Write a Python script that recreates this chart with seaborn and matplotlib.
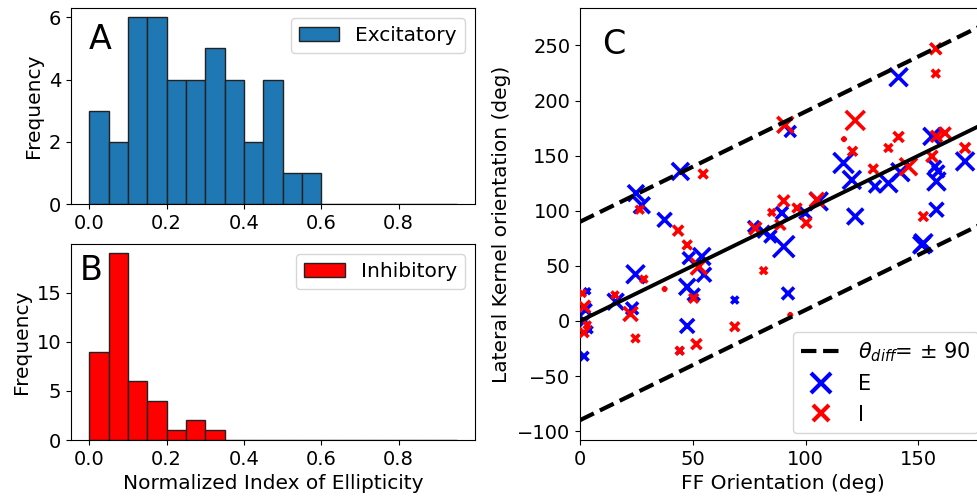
import numpy as np
import pandas as pd
import matplotlib
matplotlib.use("Agg")
import matplotlib.pyplot as plt
from matplotlib.lines import Line2D
import seaborn as sns

# ---------------- data ----------------
bin_edges = [round(0.05 * k, 2) for k in range(20)]          # 0.00 ... 0.95 (19 bins)
exc_counts = [3, 2, 6, 6, 4, 4, 5, 4, 2, 4, 1, 1, 0, 0, 0, 0, 0, 0, 0]
inh_counts = [9, 19, 6, 4, 1, 2, 1, 0, 0, 0, 0, 0, 0, 0, 0, 0, 0, 0, 0]

# Panel C: E cells (FF orientation, lateral kernel orientation, ellipticity weight)
e_ff = [44.5, 24.8, 27.4, 37.5, 54.0, 48.2, 24.6, 3.2, 2.5, 15.8, 23.1, 4.0, 1.8,
        47.5, 44.2, 47.5, 50.4, 55.0, 68.6, 92.2, 151.5, 90.3, 93.2, 89.5, 99.9,
        105.8, 77.0, 81.4, 84.4, 141.2, 116.8, 120.5, 136.7, 130.8, 156.0, 157.4,
        158.8, 158.0, 170.7, 122.0, 158.0, 152.2, 2.0, 142.0]
e_lk = [135.7, 116.0, 105.0, 91.8, 58.5, 57.0, 42.4, 27.0, 10.0, 17.5, 11.5, -8.0, -32.0,
        -4.5, -27.0, 31.0, 24.0, 42.0, 19.0, 25.0, 69.0, 67.5, 172.0, 98.0, 98.0,
        108.5, 85.7, 81.0, 76.6, 221.2, 143.4, 128.0, 125.0, 122.0, 167.5, 140.0,
        135.7, 126.6, 144.8, 94.8, 101.0, 70.6, 0.0, 135.0]
e_w = [0.64, 0.56, 0.56, 0.42, 0.64, 0.30, 0.72, 0.05, 0.30, 0.56, 0.30, 0.08, 0.15,
       0.42, 0.08, 0.56, 0.30, 0.42, 0.08, 0.30, 0.64, 1.00, 0.25, 0.30, 0.30,
       0.72, 0.25, 0.30, 0.30, 0.72, 0.90, 0.72, 0.72, 0.30, 0.64, 0.30,
       0.30, 0.72, 0.72, 0.56, 0.42, 0.72, 0.20, 0.72]

# Panel C: I cells
i_ff = [54.6, 26.5, 43.5, 47.5, 28.3, 37.5, 1.0, 1.8, 15.5, 22.4, 1.8, 3.2, 24.6,
        44.2, 51.6, 50.4, 52.7, 68.6, 81.4, 93.2, 91.0, 90.3, 85.0, 96.2, 100.3,
        105.0, 77.7, 88.8, 157.7, 157.7, 122.0, 117.0, 120.8, 130.0, 136.7, 141.2,
        145.6, 158.0, 161.8, 156.0, 170.7, 152.2]
i_lk = [133.4, 101.0, 82.0, 69.0, 38.0, 29.0, 25.0, 13.0, 23.6, 6.4, -10.6, -3.6, -15.8,
        -27.0, -21.0, 20.6, 49.4, -5.2, 45.7, 5.5, 178.0, 109.0, 98.5, 102.5, 89.0,
        110.0, 84.0, 87.3, 247.0, 224.5, 182.0, 165.0, 154.0, 138.0, 157.0, 167.0,
        140.0, 167.5, 170.6, 149.4, 157.0, 94.8]
i_w = [0.15, 0.11, 0.20, 0.15, 0.08, 0.00, 0.08, 0.30, 0.08, 0.42, 0.15, 0.08, 0.11,
       0.11, 0.20, 0.15, 0.56, 0.15, 0.08, 0.00, 0.56, 0.25, 0.08, 0.15, 0.20,
       0.42, 0.30, 0.20, 0.25, 0.11, 0.80, 0.00, 0.15, 0.15, 0.11, 0.20,
       0.64, 0.25, 0.25, 0.25, 0.20, 0.15]

theta_diff = 90
xlim_c = (0, 180)
ylim_c = (-108, 284)

# ---------------- figure ----------------
plt.rcParams['font.family'] = ['DejaVu Sans']
plt.rcParams['font.size'] = 14

TICK_FS = 14
LABEL_FS = 14.5
LEG_FS_AB = 14.5
LEG_FS_C = 15

W, H = 977, 496
fig = plt.figure(figsize=(W / 100, H / 100), dpi=100)

def ax_px(left, top, right, bottom):
    return fig.add_axes([left / W, 1 - bottom / H, (right - left) / W, (bottom - top) / H])

axA = ax_px(71, 8, 475, 204)
axB = ax_px(71, 244, 475, 440)
# axis C extends beyond the right edge of the figure (cropped, like the reference)
c_left = 580
c_px_per_unit = 2.256
axC = ax_px(c_left, 8, c_left + (xlim_c[1] - xlim_c[0]) * c_px_per_unit, 440)

hist_df = pd.DataFrame({
    'center': [e + 0.025 for e in bin_edges[:-1]],
    'exc': exc_counts,
    'inh': inh_counts,
})

sns.histplot(data=hist_df, x='center', weights='exc', bins=bin_edges, ax=axA,
             color='#1f77b4', edgecolor='#222222', linewidth=1.0, alpha=1.0,
             label='Excitatory')
sns.histplot(data=hist_df, x='center', weights='inh', bins=bin_edges, ax=axB,
             color='red', edgecolor='#222222', linewidth=1.0, alpha=1.0,
             label='Inhibitory')

for ax, ylim, yt in [(axA, (0, 6.3), [0, 2, 4, 6]), (axB, (0, 19.95), [0, 5, 10, 15])]:
    ax.set_xlim(-0.0475, 0.9975)
    ax.set_ylim(*ylim)
    ax.set_yticks(yt)
    ax.set_xticks([0.0, 0.2, 0.4, 0.6, 0.8])
    ax.set_xticklabels(['0.0', '0.2', '0.4', '0.6', '0.8'])
    ax.set_ylabel('Frequency', fontsize=LABEL_FS)
    ax.tick_params(labelsize=TICK_FS)
    ax.legend(loc='upper right', fontsize=LEG_FS_AB)
axA.set_xlabel('')
axB.set_xlabel('Normalized Index of Ellipticity', fontsize=LABEL_FS)

# ---------------- panel C ----------------
dfE = pd.DataFrame({'ff': e_ff, 'lk': e_lk, 'w': e_w})
dfI = pd.DataFrame({'ff': i_ff, 'lk': i_lk, 'w': i_w})
sns.scatterplot(data=dfE, x='ff', y='lk', size='w', sizes=(8, 230), size_norm=(0, 1),
                marker='x', color='blue', linewidth=2.6, ax=axC, legend=False, zorder=2)
sns.scatterplot(data=dfI, x='ff', y='lk', size='w', sizes=(8, 230), size_norm=(0, 1),
                marker='x', color='red', linewidth=2.6, ax=axC, legend=False, zorder=3)

xs = np.array(xlim_c, dtype=float)
sns.lineplot(x=xs, y=xs + theta_diff, ax=axC, color='black', linestyle='--', linewidth=3, zorder=4)
sns.lineplot(x=xs, y=xs - theta_diff, ax=axC, color='black', linestyle='--', linewidth=3, zorder=4)
sns.lineplot(x=xs, y=xs, ax=axC, color='black', linestyle='-', linewidth=2.8, zorder=4)

axC.set_xlim(*xlim_c)
axC.set_ylim(*ylim_c)
axC.set_xticks([0, 50, 100, 150])
axC.set_yticks([-100, -50, 0, 50, 100, 150, 200, 250])
axC.tick_params(labelsize=TICK_FS)
axC.set_xlabel('FF Orientation (deg)', fontsize=LABEL_FS)
axC.set_ylabel('Lateral Kernel orientation (deg)', fontsize=LABEL_FS)

handles = [
    Line2D([0], [0], color='black', linestyle='--', linewidth=3),
    Line2D([0], [0], color='blue', marker='x', linestyle='none', markersize=14, markeredgewidth=3),
    Line2D([0], [0], color='red', marker='x', linestyle='none', markersize=11, markeredgewidth=3),
]
labels = [r'$\theta_{diff}$= $\pm$ 90', 'E', 'I']
axC.legend(handles, labels, loc='lower left', bbox_to_anchor=(793 / W, 1 - 433 / H),
           bbox_transform=fig.transFigure, borderaxespad=0, fontsize=LEG_FS_C, handlelength=1.9)

fig.text(89 / W, 1 - 49 / H, 'A', fontsize=24, va='baseline')
fig.text(80 / W, 1 - 280 / H, 'B', fontsize=24, va='baseline')
fig.text(602 / W, 1 - 54 / H, 'C', fontsize=24, va='baseline')

fig.savefig('out.png', dpi=100)
